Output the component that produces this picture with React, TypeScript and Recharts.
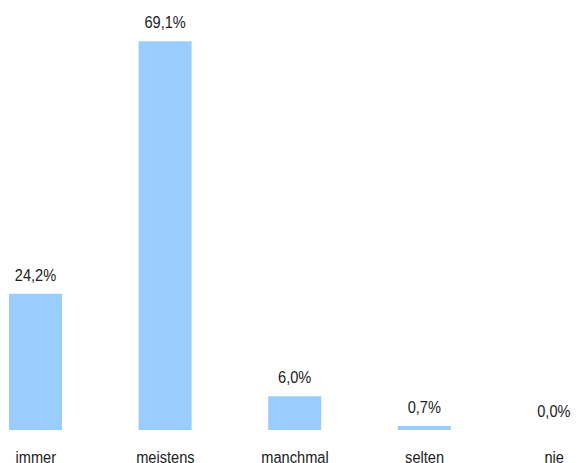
import React from "react";
import { BarChart, Bar, XAxis, YAxis, LabelList } from "recharts";

const categories = ["immer", "meistens", "manchmal", "selten", "nie"];
const values = [24.2, 69.1, 6.0, 0.7, 0.0];

const data = categories.map((c, i) => ({ name: c, value: values[i] }));

const FONT = "'Liberation Sans', Arial, sans-serif";
const SX = 0.86;

const fmt = (v: any) => `${Number(v).toFixed(1).replace(".", ",")}%`;

const Tick = (props: any) => {
  const { x, payload } = props;
  return (
    <text
      transform={`translate(${x},462.5) scale(${SX},1)`}
      textAnchor="middle"
      fill="#222"
      fontSize={17}
      fontFamily={FONT}
    >
      {payload.value}
    </text>
  );
};

const ValueLabel = (props: any) => {
  const { x, y, width, value } = props;
  const cx = Number(x) + Number(width) / 2;
  const by = Number(y) - 13;
  return (
    <text
      transform={`translate(${cx},${by}) scale(${SX},1)`}
      textAnchor="middle"
      fill="#222"
      fontSize={17}
      fontFamily={FONT}
    >
      {fmt(value)}
    </text>
  );
};

export default function App() {
  return (
    <div style={{ position: "absolute", left: -29, top: 0 }}>
      <BarChart
        width={648}
        height={480}
        data={data}
        margin={{ top: 8, right: 0, bottom: 0, left: 0 }}
        barCategoryGap={0}
      >
        <YAxis hide domain={[0, 75]} />
        <XAxis
          dataKey="name"
          axisLine={false}
          tickLine={false}
          height={50}
          tick={<Tick />}
          interval={0}
        />
        <Bar
          dataKey="value"
          fill="#99ccff"
          barSize={53}
          minPointSize={0.001}
          isAnimationActive={false}
        >
          <LabelList dataKey="value" content={<ValueLabel />} />
        </Bar>
      </BarChart>
    </div>
  );
}
